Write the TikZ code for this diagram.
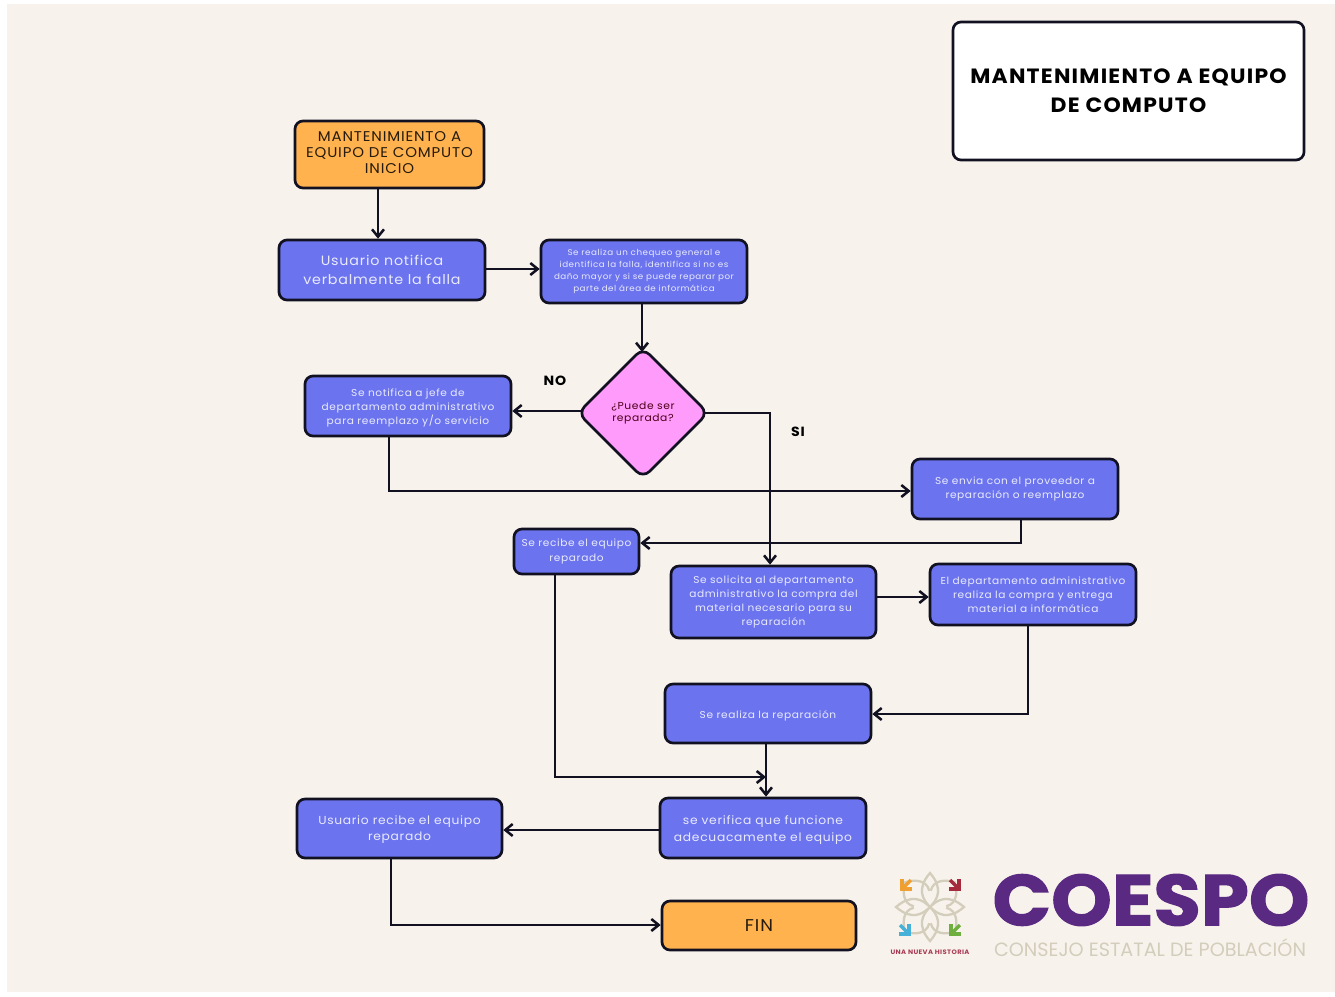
\documentclass[tikz,border=0pt]{standalone}
\usepackage{fontspec}
\setmainfont{Poppins}[LetterSpace=6,FakeStretch=1.06]
\newfontfamily\plainpop{Poppins}
\newfontfamily\logofont{Poppins}[BoldFeatures={FakeBold=1.6,FakeStretch=1.07}]
\usetikzlibrary{arrows.meta,shapes.geometric,calc}
\definecolor{bgc}{HTML}{F7F2EB}
\definecolor{bluec}{HTML}{6B74EE}
\definecolor{orangec}{HTML}{FFB24E}
\definecolor{pinkc}{HTML}{FF9BFB}
\definecolor{linec}{HTML}{111122}
\definecolor{purplec}{HTML}{5A2A82}
\definecolor{tanc}{HTML}{D3CDBB}
\definecolor{maroonc}{HTML}{A83A55}
\definecolor{logogreen}{HTML}{6FAF3F}
\definecolor{logoblue}{HTML}{45B0D8}
\definecolor{logored}{HTML}{A52A3C}
\definecolor{logoorange}{HTML}{F0A030}
\newcommand{\lowered}[2]{\raisebox{0pt}[\dimexpr\height+#1\relax][\depth]{\begin{tabular}{@{}c@{}}#2\end{tabular}}}
\tikzset{
  x=0.75pt,y=-0.75pt,
  boxbase/.style={draw=linec,line width=2pt,rounded corners=6pt,align=center,inner sep=0pt,anchor=center},
  bluebox/.style={boxbase,fill=bluec,text=white!85!bluec},
  orangebox/.style={boxbase,fill=orangec,text=black!85!orangec},
  titlebox/.style={boxbase,fill=white,text=black},
  flow/.style={draw=linec,line width=2.1pt,-{Straight Barb[length=5.5pt,width=9pt,line width=1.9pt]}},
  tiny/.style={font=\fontsize{6.2}{8.8}\selectfont},
  small/.style={font=\fontsize{7.5}{10.6}\selectfont},
  mid/.style={font=\fontsize{8.7}{12.6}\selectfont},
  big/.style={font=\fontsize{10.1}{14.4}\selectfont},
  petal/.style={draw=tanc,line width=1.7pt},
  logoarrow/.style={line width=2.6pt,line cap=butt},
}
\newcommand{\boxat}[7]{% name style x1 y1 x2 y2 text
  \node[#2,minimum width=#5*0.75pt-#3*0.75pt,minimum height=#6*0.75pt-#4*0.75pt] (#1) at ({(#3+#5)/2},{(#4+#6)/2}) {#7};}
\begin{document}
\begin{tikzpicture}
\useasboundingbox (0,0) rectangle (1335,996);
\fill[white] (0,0) rectangle (1335,996);
\fill[bgc] (7,4) rectangle (1335,992);
\boxat{title}{titlebox,font=\fontsize{15.5}{21.5}\bfseries\selectfont}{953}{22}{1304}{160}{MANTENIMIENTO A EQUIPO\\DE COMPUTO}
\boxat{start}{orangebox,font=\fontsize{10.6}{11.9}\selectfont}{295}{121}{484}{188}{\lowered{0pt}{MANTENIMIENTO A\\EQUIPO DE COMPUTO\\INICIO}}
\boxat{user}{bluebox,big}{279}{240}{485}{300}{Usuario notifica\\verbalmente la falla}
\boxat{check}{bluebox,tiny}{541}{240}{747}{303}{Se realiza un chequeo general e\\identifica la falla, identifica si no es\\daño mayor y si se puede reparar por\\parte del área de informática}
\node[draw=linec,line width=2pt,fill=pinkc,shape=diamond,aspect=1,rounded corners=7pt,outer sep=0pt,minimum width=97.5pt,minimum height=97.5pt,inner sep=0pt,align=center] (dia) at (643,413) {};
\node[align=center,font=\fontsize{7.6}{9}\selectfont,text=black!60!purple] (dialabel) at (dia.center) {¿Puede ser\\reparada?};
\boxat{notify}{bluebox,small}{305}{376}{511}{436}{\lowered{3pt}{Se notifica a jefe de\\departamento administrativo\\para reemplazo y/o servicio}}
\boxat{send}{bluebox,small}{912}{459}{1118}{519}{Se envia con el proveedor a\\reparación o reemplazo}
\boxat{receive}{bluebox,small}{514}{529}{639}{574}{Se recibe el equipo\\reparado}
\boxat{solicit}{bluebox,small}{671}{566}{876}{638}{Se solicita al departamento\\administrativo la compra del\\material necesario para su\\reparación}
\boxat{dept}{bluebox,small}{930}{564}{1136}{625}{El departamento administrativo\\realiza la compra y entrega\\material a informática}
\boxat{repair}{bluebox,small}{665}{684}{871}{743}{\lowered{3pt}{Se realiza la reparación}}
\boxat{verify}{bluebox,mid}{660}{798}{866}{858}{\lowered{2pt}{se verifica que funcione\\adecuacamente el equipo}}
\boxat{urec}{bluebox,mid}{297}{799}{502}{858}{\lowered{1pt}{Usuario recibe el equipo\\reparado}}
\boxat{fin}{orangebox,font=\fontsize{12.8}{14}\selectfont}{662}{901}{856}{950}{FIN}
\node[font=\fontsize{10}{11}\bfseries\selectfont,text=black] (nolab) at (555,381) {NO};
\node[font=\fontsize{10}{11}\bfseries\selectfont,text=black] (silab) at (798,432) {SI};
% connector guides
\coordinate (a1) at (378,269);
\coordinate (a2) at (642,411);
\coordinate (a3) at (770,413);
\coordinate (a4) at (389,491);
\coordinate (a5) at (1021,543);
\coordinate (a6) at (1028,714);
\coordinate (a7) at (766,777);
\coordinate (a8) at (555,597);
\coordinate (a9) at (391,925);
\coordinate (a10) at (876,597);
\coordinate (a11) at (660,830);
\draw[flow] (a1 |- start.south) -- (a1 |- user.north);
\draw[flow] (user.east |- a1) -- (check.west |- a1);
\draw[flow,shorten >=-3pt] (a2 |- check.south) -- (a2 |- dia.north);
\draw[flow,shorten <=-3pt] (dia.west |- a2) -- (notify.east |- a2);
\draw[flow,shorten <=-3pt] (dia.east |- a3) -- (a3) -- (a3 |- solicit.north);
\draw[flow] (a4 |- notify.south) -- (a4) -- (send.west |- a4);
\draw[flow] (a5 |- send.south) -- (a5) -- (receive.east |- a5);
\draw[flow] (solicit.east |- a10) -- (dept.west |- a10);
\draw[flow] (a6 |- dept.south) -- (a6) -- (repair.east |- a6);
\draw[flow] (a7 |- repair.south) -- (a7 |- verify.north);
\draw[flow] (a8 |- receive.south) -- (a8 |- a7) -- (a7);
\draw[flow] (verify.west |- a11) -- (urec.east |- a11);
\draw[flow] (a9 |- urec.south) -- (a9) -- (fin.west |- a9);
% logo
\coordinate (lc) at (930,907);
\foreach \a in {0,90,180,270}{
  \draw[petal,rotate around={\a:(lc)}] (lc) .. controls ($(lc)+(7,-7)$) and ($(lc)+(14,-18)$) .. ($(lc)+(0,-34)$) .. controls ($(lc)+(-14,-18)$) and ($(lc)+(-7,-7)$) .. (lc);
}
\foreach \a in {45,135,225,315}{
  \draw[petal,rotate around={\a:(lc)}] ($(lc)+(-11,-12)$) .. controls ($(lc)+(-17,-22)$) and ($(lc)+(-8,-31)$) .. ($(lc)+(0,-35)$) .. controls ($(lc)+(8,-31)$) and ($(lc)+(17,-22)$) .. ($(lc)+(11,-12)$);
}
\foreach \col/\sx/\xx/\yy in {logoorange/-1/906/885,logored/1/955/885,logoblue/1/905/930,logogreen/-1/955/930}{
  \begin{scope}[shift={(\xx,\yy)},xscale=\sx]
    \draw[logoarrow,\col] (4,-6) -- (4,4) -- (-6,4);
    \draw[logoarrow,\col] (-5,-5) -- (3,3);
  \end{scope}
}
\node[font=\fontsize{4.8}{5}\bfseries\selectfont,text=maroonc] (motto) at (930,952) {UNA NUEVA HISTORIA};
\node[font=\fontsize{54}{54}\logofont\bfseries\selectfont,text=purplec,inner sep=0pt] (coespo) at (1151,900) {COESPO};
\node[font=\fontsize{14.4}{16}\plainpop\selectfont,text=tanc,inner sep=0pt] (consejo) at (1150,948) {CONSEJO ESTATAL DE POBLACIÓN};
\end{tikzpicture}
\end{document}
